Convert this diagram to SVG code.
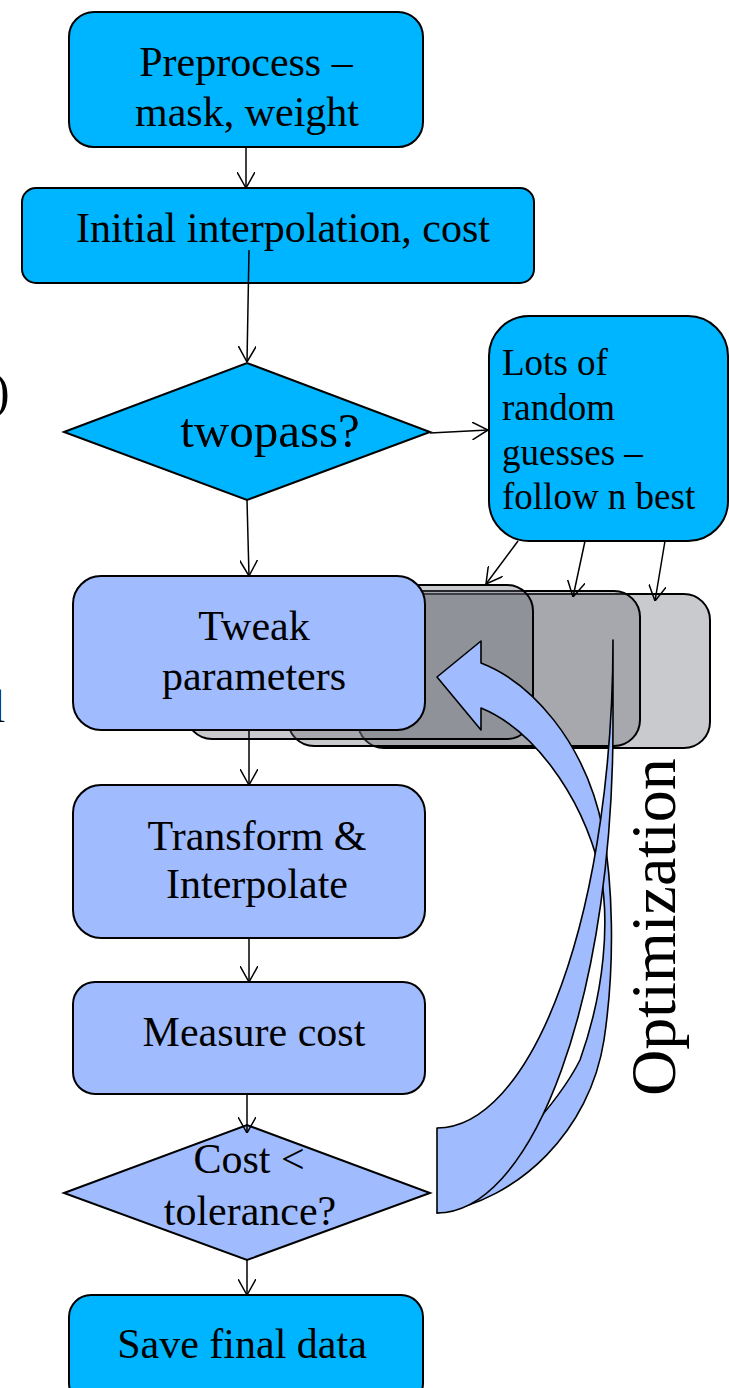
<svg xmlns="http://www.w3.org/2000/svg" width="729" height="1388" viewBox="0 0 729 1388">
<defs>
<style>
.t{font-family:"Liberation Serif","Times New Roman",serif;font-size:42px;fill:#000;text-anchor:middle}
.cyan{fill:#00B5FF;stroke:#000;stroke-width:2}
.blue{fill:#A0BCFF;stroke:#000;stroke-width:2}
.ghost{fill:rgb(104,107,120);fill-opacity:0.36;stroke:#000;stroke-width:2}
.band{fill:#A0BCFF;stroke:#000;stroke-width:1.6;stroke-linejoin:round}
.c{fill:none;stroke:#000;stroke-width:1.5}
</style>
<marker id="arr" viewBox="0 0 16 18" refX="16" refY="9" markerWidth="16" markerHeight="18" orient="auto" markerUnits="userSpaceOnUse">
<path d="M0,0 L16,9 L0,18" fill="none" stroke="#000" stroke-width="1.5"/>
</marker>
</defs>
<rect width="729" height="1388" fill="#fff"/>

<text class="t" x="-7" y="408" style="font-size:50px;text-anchor:start">)</text>
<text class="t" x="-7.5" y="722" style="font-size:46px;text-anchor:start">l</text>

<g id="copies">
<rect class="ghost" x="358" y="594" width="352" height="154" rx="26"/>
<rect class="ghost" x="288" y="591" width="352" height="155" rx="26"/>
<rect class="ghost" x="186" y="585" width="347" height="154" rx="26"/>
</g>

<g id="tweak">
<rect class="blue" x="73" y="576" width="352" height="154" rx="28"/>
<text class="t" x="254" y="640">Tweak</text>
<text class="t" x="254" y="690">parameters</text>
</g>

<g id="loop-arrow">
<path class="band" d="M437,677 L481,641 L481,663 C530,682 585,740 603,830 C612,880 616,960 604,1040 C590,1130 520,1200 437,1213 C500,1170 560,1100 580,1060 C605,990 610,920 600,870 C580,790 530,728 481,708 L481,730 Z"/>
<path class="band" d="M613,640 A176,488 0 0 1 437,1128 L437,1213 A176,488 0 0 0 613,725 Z"/>
</g>

<g id="optimization">
<text class="t" transform="translate(675,927) rotate(-90)" style="font-size:64px">Optimization</text>
</g>

<g id="preprocess">
<rect class="cyan" x="69" y="12" width="354" height="135" rx="25"/>
<text class="t" x="246" y="76">Preprocess –</text>
<text class="t" x="247" y="126">mask, weight</text>
</g>

<g id="initial">
<rect class="cyan" x="22" y="188" width="512" height="95" rx="14"/>
<text class="t" x="283" y="242">Initial interpolation, cost</text>
</g>

<g id="twopass">
<polygon class="cyan" points="64,432 247,363 430,432 247,500"/>
<text class="t" x="270" y="447" style="font-size:49px">twopass?</text>
</g>

<g id="random">
<rect class="cyan" x="489" y="316" width="239" height="225" rx="40"/>
<text class="t" style="font-size:37px;text-anchor:start" x="502" y="375">Lots of</text>
<text class="t" style="font-size:37px;text-anchor:start" x="502" y="420">random</text>
<text class="t" style="font-size:37px;text-anchor:start" x="502" y="465">guesses –</text>
<text class="t" style="font-size:37px;text-anchor:start" x="502" y="509">follow n best</text>
</g>

<g id="transform">
<rect class="blue" x="73" y="785" width="352" height="153" rx="28"/>
<text class="t" x="257" y="850">Transform &amp;</text>
<text class="t" x="257" y="898">Interpolate</text>
</g>

<g id="measure">
<rect class="blue" x="73" y="982" width="352" height="112" rx="22"/>
<text class="t" x="254" y="1046">Measure cost</text>
</g>

<g id="tolerance">
<polygon class="blue" points="64,1193 247,1125 430,1193 247,1260"/>
<text class="t" x="249" y="1173">Cost &lt;</text>
<text class="t" x="250" y="1225">tolerance?</text>
</g>

<g id="save">
<rect class="cyan" x="69" y="1295" width="354" height="110" rx="22"/>
<text class="t" x="242" y="1358">Save final data</text>
</g>

<g id="connectors">
<path class="c" marker-end="url(#arr)" d="M246,147 L246,188"/>
<path class="c" marker-end="url(#arr)" d="M249,250 L247,362"/>
<path class="c" marker-end="url(#arr)" d="M247,500 L249,576"/>
<path class="c" marker-end="url(#arr)" d="M430,433 L488,430"/>
<path class="c" marker-end="url(#arr)" d="M518,541 L486,584"/>
<path class="c" marker-end="url(#arr)" d="M585,541 L573,597"/>
<path class="c" marker-end="url(#arr)" d="M665,541 L655,601"/>
<path class="c" marker-end="url(#arr)" d="M249,730 L249,785"/>
<path class="c" marker-end="url(#arr)" d="M249,938 L249,982"/>
<path class="c" marker-end="url(#arr)" d="M247,1094 L247,1133"/>
<path class="c" marker-end="url(#arr)" d="M247,1260 L247,1295"/>
</g>
</svg>
